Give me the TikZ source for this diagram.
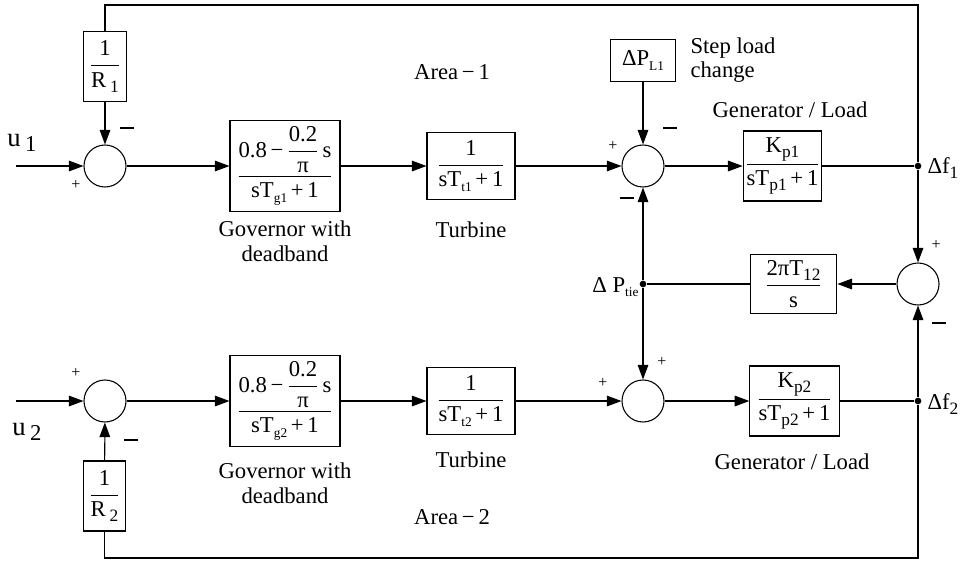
\documentclass[tikz,border=0pt]{standalone}
\usepackage{fontspec}
\setmainfont{Liberation Serif}
\usepackage{amsmath}
\usetikzlibrary{arrows.meta}
% lowered indices: a large one and a small one
\newcommand{\lsub}[1]{\raisebox{-0.45ex}{\fontsize{13}{13}\selectfont #1}}
\newcommand{\ssub}[1]{\raisebox{-0.45ex}{\fontsize{10}{10}\selectfont #1}}
% input names, set a little larger than the rest
\newcommand{\inname}[1]{{\fontsize{20}{20}\selectfont u\,\raisebox{-0.45ex}{\fontsize{17}{17}\selectfont #1}}}
% transfer function as a fraction of two text parts
\newcommand{\tfr}[2]{$\displaystyle\frac{\text{#1}}{\text{#2}}$}
\newcommand{\govfr}[1]{$\displaystyle\frac{\text{0.8\,−\,}\displaystyle\frac{\text{0.2}}{\text{π}}\,\text{s}}{\text{sT\ssub{#1}\,+\,1}}$}
\begin{document}
\begin{tikzpicture}[x=0.75pt,y=-0.75pt,
  font=\fontsize{17}{20}\selectfont, line width=0.8pt,
  arr/.style={-{Triangle[length=11pt,width=8pt]}},
  blk/.style={draw, inner sep=0pt, align=center},
  sumc/.style={draw, circle, minimum size=31.5pt, inner sep=0pt},
  dot/.style={circle, fill, inner sep=0pt, minimum size=5pt},
  plussign/.style={font=\fontsize{12}{12}\selectfont, inner sep=0pt},
  minussign/.style={inner sep=0pt},
  lbl/.style={inner sep=0pt, align=center}]
\useasboundingbox (0,0) rectangle (966,561);

% ---------- Area 1 ----------
\node[blk, minimum width=32pt, minimum height=53pt] (r1) at (105,66.5) {\tfr{1}{R\,\lsub{1}}};
\node[sumc] (s1) at (105,166) {};
\node[blk, minimum width=82.5pt, minimum height=68pt] (gov1) at (285,166) {\govfr{g1}};
\node[blk, minimum width=66pt, minimum height=50pt] (turb1) at (471,166) {\tfr{1}{sT\ssub{t1}\,+\,1}};
\node[sumc] (s2) at (643,166) {};
\node[blk, minimum width=49pt, minimum height=31pt] (pl1) at (643,60.5) {ΔP\ssub{L1}};
\node[blk, minimum width=59pt, minimum height=52.5pt] (gen1) at (782.5,166) {\tfr{K\lsub{p1}}{sT\lsub{p1}\,+\,1}};
\node[dot] (f1) at (918,166) {};

% ---------- tie line ----------
\node[sumc] (s3) at (918,284) {};
\node[blk, minimum width=65pt, minimum height=44pt] (tie) at (793.5,284) {\tfr{2πT\lsub{12}}{s}};
\node[dot] (ptie) at (643,284) {};

% ---------- Area 2 ----------
\node[blk, minimum width=31.5pt, minimum height=52.5pt] (r2) at (104.5,496) {\tfr{1}{R\,\lsub{2}}};
\node[sumc] (s5) at (105,401) {};
\node[blk, minimum width=82.5pt, minimum height=68pt] (gov2) at (285,401) {\govfr{g2}};
\node[blk, minimum width=66pt, minimum height=50pt] (turb2) at (471,401) {\tfr{1}{sT\ssub{t2}\,+\,1}};
\node[sumc] (s4) at (643,401) {};
\node[blk, minimum width=67pt, minimum height=52.5pt] (gen2) at (794.5,401) {\tfr{K\lsub{p2}}{sT\lsub{p2}\,+\,1}};
\node[dot] (f2) at (918,401) {};

% loose ends of the wiring
\coordinate (u1in) at (16,166);
\coordinate (u2in) at (16,401);
\coordinate (tr) at (918,5);
\coordinate (br) at (918,558);

% ---------- connectors, area 1 ----------
\draw[arr] (u1in) -- (s1);
\draw[arr] (s1) -- (gov1);
\draw[arr] (gov1) -- (turb1);
\draw[arr] (turb1) -- (s2);
\draw[arr] (s2) -- (gen1);
\draw (gen1) -- (f1);
\draw (f1) -- (tr) -| (r1.north);
\draw[arr] (r1) -- (s1);
\draw[arr] (pl1) -- (s2);

% ---------- connectors, tie line ----------
\draw[arr] (f1) -- (s3);
\draw[arr] (f2) -- (s3);
\draw[arr] (s3) -- (tie);
\draw (tie) -- (ptie);
\draw[arr] (ptie) -- (s2);
\draw[arr] (ptie) -- (s4);

% ---------- connectors, area 2 ----------
\draw[arr] (u2in) -- (s5);
\draw[arr] (s5) -- (gov2);
\draw[arr] (gov2) -- (turb2);
\draw[arr] (turb2) -- (s4);
\draw[arr] (s4) -- (gen2);
\draw (gen2) -- (f2);
\draw (f2) -- (br) -| (r2.south);
\draw[arr] (r2) -- (s5);

% ---------- signs at the summing points ----------
\node[plussign] (p1) at (76,185) {+};
\node[minussign] (n1) at (127,128) {\rule{10pt}{1.7pt}};
\node[plussign] (p2) at (613,146) {+};
\node[minussign] (n2a) at (670,128) {\rule{10pt}{1.7pt}};
\node[minussign] (n2b) at (627,198) {\rule{10pt}{1.7pt}};
\node[plussign] (p3) at (936,245) {+};
\node[minussign] (n3) at (939,323) {\rule{10pt}{1.7pt}};
\node[plussign] (p4a) at (662,362) {+};
\node[plussign] (p4b) at (603,383) {+};
\node[plussign] (p5) at (76,373) {+};
\node[minussign] (n5) at (131,440) {\rule{10pt}{1.7pt}};

% ---------- labels ----------
\node[lbl] (u1) at (22,143) {\inname{1}};
\node[lbl] (u2) at (27,432) {\inname{2}};
\node[lbl] (area1) at (452,72) {Area\,−\,1};
\node[lbl] (area2) at (452,517) {Area\,−\,2};
\node[lbl, anchor=west] (step) at (690,60) {\begin{tabular}{@{}l@{}}Step load\\[-2pt] change\end{tabular}};
\node[lbl] (genlbl1) at (790,110) {Generator / Load};
\node[lbl] (genlbl2) at (792,462) {Generator / Load};
\node[lbl] (govlbl1) at (285,241) {Governor with\\[-1pt] deadband};
\node[lbl] (govlbl2) at (285,483) {Governor with\\[-1pt] deadband};
\node[lbl] (turblbl1) at (471,230) {Turbine};
\node[lbl] (turblbl2) at (471,460) {Turbine};
\node[lbl, anchor=west] (df1) at (927,168) {Δf\lsub{1}};
\node[lbl, anchor=west] (df2) at (927,404) {Δf\lsub{2}};
\node[lbl, anchor=east] (dptie) at (639,287) {Δ P\ssub{tie}};
\end{tikzpicture}
\end{document}
